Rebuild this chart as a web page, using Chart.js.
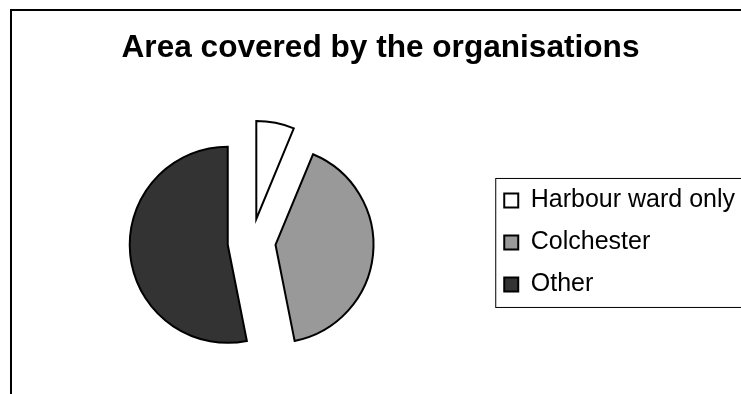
<!DOCTYPE html>
<html>
<head>
<meta charset="utf-8">
<script src="https://cdn.jsdelivr.net/npm/chart.js@4"></script>
<style>
    html, body { margin: 0; padding: 0; background: #fff; overflow: hidden; }
    #chart-canvas { display: block; }
</style>
</head>
<body>
<canvas id="chart-canvas" width="760" height="394"></canvas>
<script>
    const TITLE = "Area covered by the organisations";
    const LABELS = ["Harbour ward only", "Colchester", "Other"];
    const DATA = [2, 13, 17];
    const COLORS = ["#ffffff", "#999999", "#333333"];
    const EXPLODE = 24;

    Chart.defaults.color = "#000";
    Chart.defaults.font.family = "'Liberation Sans', Arial, sans-serif";

    // outer frame of the chart (right and bottom edges fall outside the window)
    const frame = {
        id: "frame",
        beforeDraw(chart) {
            const ctx = chart.ctx;
            ctx.save();
            ctx.fillStyle = "#fff";
            ctx.fillRect(0, 0, chart.width, chart.height);
            ctx.lineWidth = 2;
            ctx.strokeStyle = "#000";
            ctx.strokeRect(11, 10, chart.width + 20, chart.height + 20);
            ctx.restore();
        }
    };

    // pull every slice out from the centre along its middle angle
    const explode = {
        id: "explode",
        beforeDatasetDraw(chart, args) {
            const ctx = chart.ctx;
            args.meta.data.forEach(function (arc) {
                const mid = (arc.startAngle + arc.endAngle) / 2;
                ctx.save();
                ctx.translate(Math.cos(mid) * EXPLODE, Math.sin(mid) * EXPLODE);
                arc.draw(ctx);
                ctx.restore();
            });
            return false;
        }
    };

    // box round the legend
    const legendBox = {
        id: "legendBox",
        afterDraw(chart) {
            const legend = chart.legend;
            const boxes = legend.legendHitBoxes;
            if (!boxes || !boxes.length)
                return;
            const last = boxes[boxes.length - 1];
            const top = boxes[0].top - 10;
            const bottom = last.top + last.height + 10;
            const ctx = chart.ctx;
            ctx.save();
            ctx.lineWidth = 1;
            ctx.strokeStyle = "#000";
            ctx.strokeRect(legend.left + 8.5, top + 0.5, chart.width, bottom - top);
            ctx.restore();
        }
    };

    const context = document.getElementById("chart-canvas").getContext("2d");

    const chart = new Chart(context, {
        type: "pie",
        data: {
            labels: LABELS,
            datasets: [{
                data: DATA,
                backgroundColor: COLORS,
                borderColor: "#000",
                borderWidth: 2,
                borderJoinStyle: "miter",
                radius: 98
            }]
        },
        options: {
            responsive: false,
            animation: false,
            events: [],
            layout: {
                padding: {left: 16, right: 15, top: 0, bottom: 0}
            },
            plugins: {
                title: {
                    display: true,
                    text: TITLE,
                    color: "#000",
                    font: {size: 31.6, weight: "bold"},
                    padding: {top: 29, bottom: 24}
                },
                legend: {
                    position: "right",
                    fullSize: false,
                    labels: {
                        color: "#000",
                        font: {size: 25},
                        boxWidth: 14,
                        boxHeight: 14,
                        padding: 17
                    }
                },
                tooltip: {enabled: false}
            }
        },
        plugins: [frame, explode, legendBox]
    });
</script>
</body>
</html>
